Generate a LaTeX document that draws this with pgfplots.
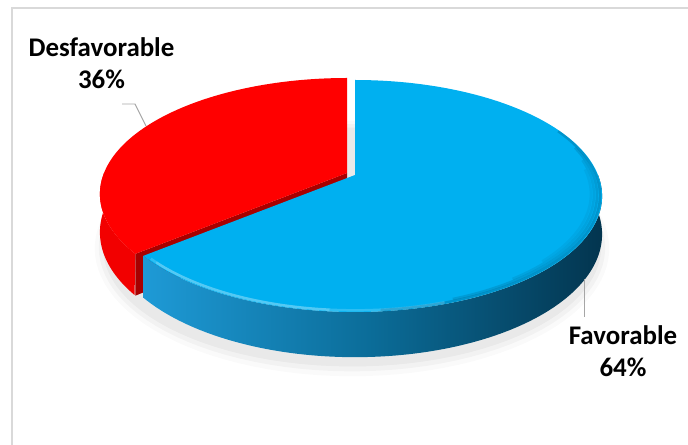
\documentclass[border=0pt]{standalone}
\usepackage{pgfplots}
\pgfplotsset{compat=1.18}
\usepackage{fontspec}
\setmainfont{Carlito}
\definecolor{bluetop}{HTML}{00B0F0}
\definecolor{blueside1}{HTML}{1E9AD6}
\definecolor{blueside2}{HTML}{0B6C98}
\definecolor{blueside3}{HTML}{03354F}
\definecolor{redtop}{HTML}{FF0000}
\definecolor{redside}{HTML}{F20000}
\definecolor{redcut}{HTML}{A80000}
\definecolor{framegray}{HTML}{D9D9D9}
\definecolor{leader}{HTML}{A6A6A6}
% geometry of the pie (picture units = px of the reference)
\def\cx{355}\def\ay{175}\def\sx{243}\def\sy{112.2}\def\kk{0.181}\def\dd{37}
\tikzset{declare function={
  PX(\a,\c)=\c+\sx*cos(\a)/(1+\kk*sin(\a));
  PY(\a,\c,\h)=\c-\sy*sin(\a)/(1+\kk*sin(\a))+\h/(1+\kk*sin(\a));
  QX(\a,\f)=\cx+\f*\sx*cos(\a)/(1+\kk*\f*sin(\a));
  QY(\a,\f)=\ay-\f*\sy*sin(\a)/(1+\kk*\f*sin(\a));
  SX(\a,\e)=\cx-3+(\sx+\e)*cos(\a)/(1+\kk*sin(\a));
  SY(\a,\e)=\ay+\dd+6-(\sy+\e)*sin(\a)/(1+\kk*sin(\a))+\dd*0.2/(1+\kk*sin(\a));
}}
\begin{document}
\begin{tikzpicture}
% data: Favorable 64, Desfavorable 36
\def\vFav{64}\def\vDes{36}
\pgfmathsetmacro\thB{90-3.6*\vFav}   % start of blue (clockwise from 12 o'clock)
\pgfmathsetmacro\thR{90+3.6*\vDes}   % end of red
\def\rcx{347}\def\ray{173}           % exploded red apex
\pgfmathsetmacro\rcutx{PX(\thR,\rcx)}
\pgfmathsetmacro\rcuty{PY(\thR,\ray,0)}
\pgfmathsetmacro\rcutyb{PY(\thR,\ray,\dd)}
\pgfmathsetmacro\rapexb{\ray+\dd}
\begin{axis}[width=688bp,height=445bp,scale only axis,
  xmin=0,xmax=688,ymin=0,ymax=445,y dir=reverse,
  hide axis, clip=true]
\path (axis cs:0,0) rectangle (axis cs:688,445);
% frame
\addplot[color=framegray,line width=1.2pt] coordinates {(12,450) (12,8) (700,8)};
% shadow
\addplot[fill=black,fill opacity=0.02,draw=none,domain=0:360,samples=120,variable=\t]
 ({SX(\t,10)},{SY(\t,10)}) -- cycle;
\addplot[fill=black,fill opacity=0.03,draw=none,domain=0:360,samples=120,variable=\t]
 ({SX(\t,6)},{SY(\t,6)}) -- cycle;
\addplot[fill=black,fill opacity=0.04,draw=none,domain=0:360,samples=120,variable=\t]
 ({SX(\t,2)},{SY(\t,2)}) -- cycle;
% red side
\addplot[fill=redside,draw=none,domain=0:2,samples=241,variable=\t]
 ({PX(180+(\thR-180)*(1-abs(1-\t)),\rcx)},{PY(180+(\thR-180)*(1-abs(1-\t)),\ray,\dd*(\t>1))}) -- cycle;
% red cut face
\addplot[fill=redcut,draw=none] coordinates {(\rcx,\ray) (\rcutx,\rcuty) (\rcutx,\rcutyb) (\rcx,\rapexb)} -- cycle;
% red top
\addplot[fill=redtop,draw=none,domain=90:\thR,samples=150,variable=\t]
 ({PX(\t,\rcx)},{PY(\t,\ray,0)}) -- (axis cs:\rcx,\ray) -- cycle;
% blue side
\addplot[left color=blueside1,right color=blueside3,middle color=blueside2,draw=none,domain=0:2,samples=241,variable=\t]
 ({PX(\thB+(0-\thB)*(1-abs(1-\t)),\cx)},{PY(\thB+(0-\thB)*(1-abs(1-\t)),\ay,\dd*(\t>1))}) -- cycle;
% blue top
\addplot[fill=bluetop,draw=none,domain=\thB:90,samples=200,variable=\t]
 ({PX(\t,\cx)},{PY(\t,\ay,0)}) -- (axis cs:\cx,\ay) -- cycle;
% bevel: dark shading inside the right rim
\addplot[color=blueside3,opacity=0.22,line width=2.5pt,domain=-85:25,samples=100,variable=\t]
 ({QX(\t,0.992)},{QY(\t,0.992)});
\addplot[color=blueside3,opacity=0.16,line width=2.5pt,domain=-70:15,samples=100,variable=\t]
 ({QX(\t,0.98)},{QY(\t,0.98)});
\addplot[color=blueside3,opacity=0.10,line width=2.5pt,domain=-55:8,samples=100,variable=\t]
 ({QX(\t,0.968)},{QY(\t,0.968)});
\addplot[color=blueside3,opacity=0.06,line width=2.5pt,domain=-45:3,samples=100,variable=\t]
 ({QX(\t,0.956)},{QY(\t,0.956)});
% bevel: light highlight along the front rim
\addplot[color=white,opacity=0.18,line width=2.5pt,domain=\thB+2:-72,samples=100,variable=\t]
 ({QX(\t,0.99)},{QY(\t,0.99)});
\addplot[color=white,opacity=0.18,line width=2.5pt,domain=\thB+4:-95,samples=100,variable=\t]
 ({QX(\t,0.99)},{QY(\t,0.99)});
% leader lines
\addplot[color=leader,line width=1pt] coordinates {(122,104) (135,104) (146,126)};
\addplot[color=leader,line width=1pt] coordinates {(584,279) (584,317)};
% labels
\node[anchor=base,font=\fontsize{27}{32}\selectfont\bfseries] at (axis cs:101.5,57) {Desfavorable};
\node[anchor=base,font=\fontsize{27}{32}\selectfont\bfseries] at (axis cs:101.5,89) {36\%};
\node[anchor=base,font=\fontsize{27}{32}\selectfont\bfseries] at (axis cs:623,344) {Favorable};
\node[anchor=base,font=\fontsize{27}{32}\selectfont\bfseries] at (axis cs:623,376) {64\%};
\end{axis}
\end{tikzpicture}
\end{document}
